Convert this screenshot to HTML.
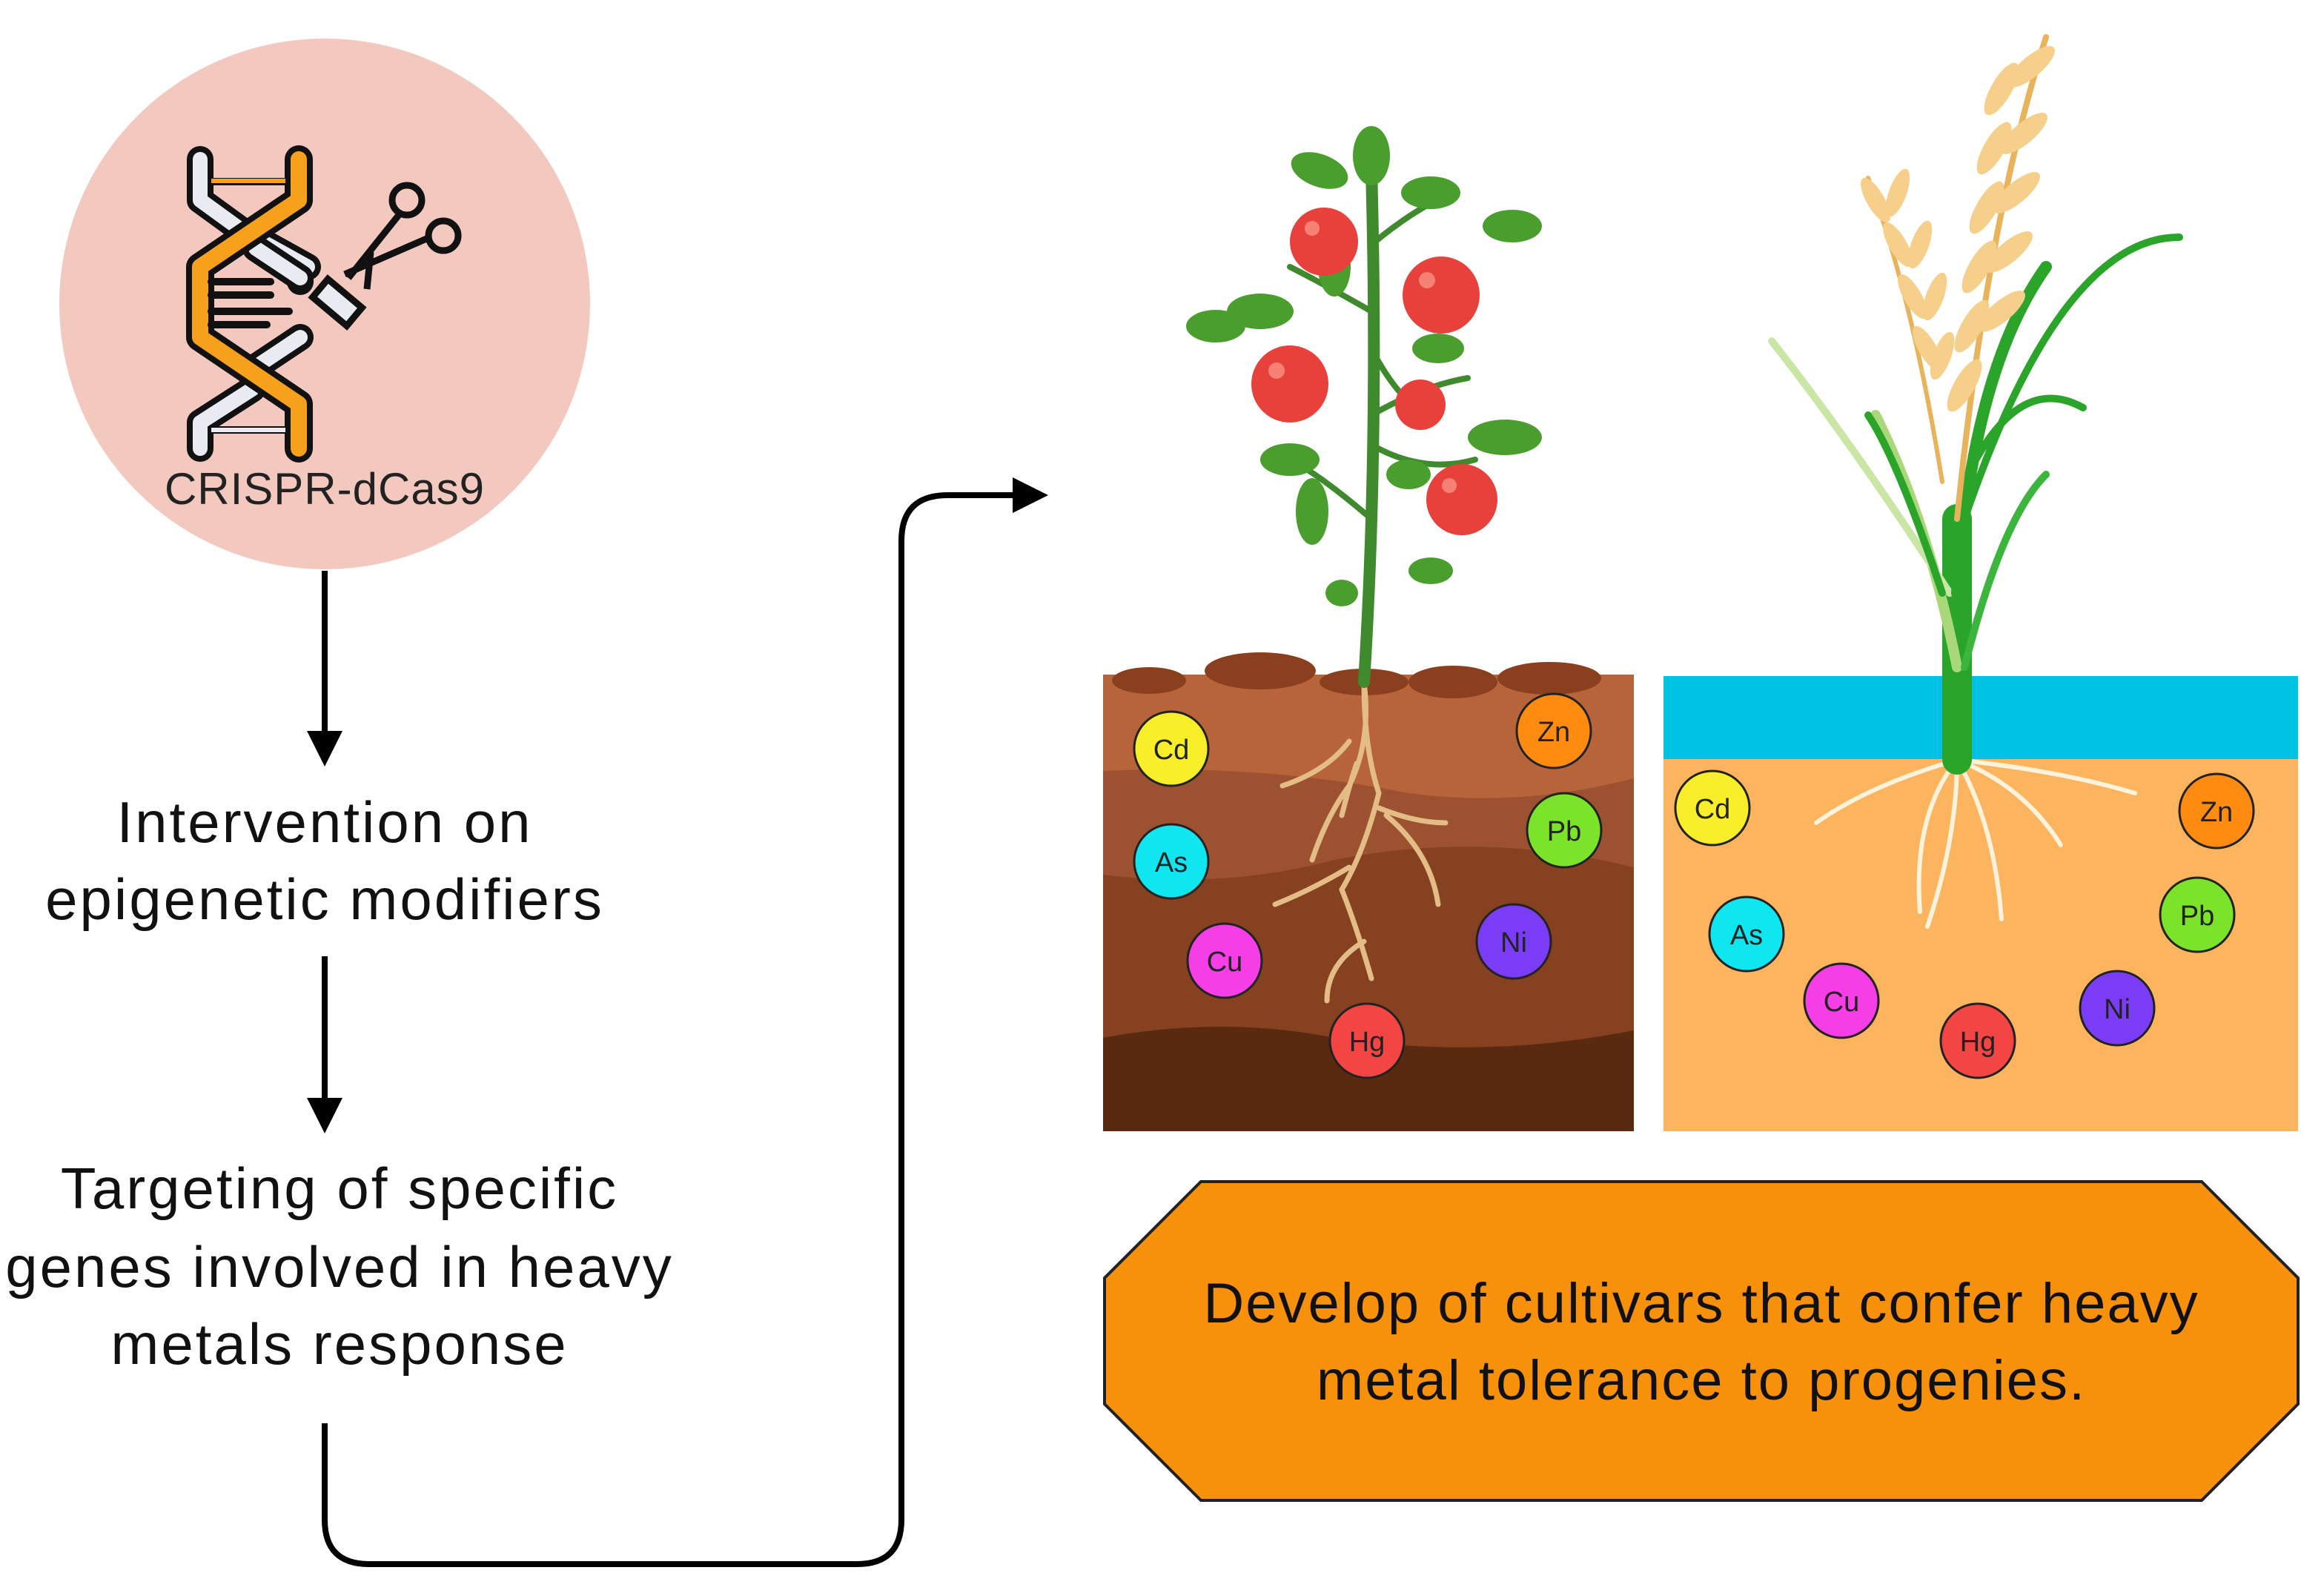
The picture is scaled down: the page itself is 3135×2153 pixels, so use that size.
<!DOCTYPE html>
<html><head><meta charset="utf-8"><style>
html,body{margin:0;padding:0;background:#fff;}
svg{display:block;}
text{font-family:"Liberation Sans",sans-serif;}
</style></head><body>
<svg width="3135" height="2153" viewBox="0 0 3135 2153" xmlns="http://www.w3.org/2000/svg">
<defs>
<marker id="ah" markerWidth="6" markerHeight="6" refX="3" refY="3" orient="auto" markerUnits="strokeWidth">
<path d="M0,0 L6,3 L0,6 Z" fill="#000"/></marker>
</defs>
<!-- CRISPR circle -->
<circle cx="438" cy="410" r="358" fill="#f2c8bf"/>
<g stroke="#111" stroke-width="14" stroke-linejoin="round" stroke-linecap="round">
<path d="M270,215 L270,270 L325,310 L415,360" fill="none" stroke="#111" stroke-width="36"/>
<path d="M270,215 L270,270 L325,310 L415,360" fill="none" stroke="#e8ecf2" stroke-width="20"/>
<path d="M345,335 L405,375 L405,380" fill="none" stroke="#111" stroke-width="36"/>
<path d="M345,335 L405,375" fill="none" stroke="#e8ecf2" stroke-width="20"/>
<path d="M405,455 L345,495 M340,525 L270,570 L270,605" fill="none" stroke="#111" stroke-width="36"/>
<path d="M405,455 L345,495 M340,525 L270,570 L270,605" fill="none" stroke="#e8ecf2" stroke-width="20"/>
<path d="M403,215 L403,270 L270,360 L270,455 L403,545 L403,605" fill="none" stroke="#111" stroke-width="38"/>
<path d="M403,215 L403,270 L270,360 L270,455 L403,545 L403,605" fill="none" stroke="#f7a01c" stroke-width="22"/>
<path d="M285,245 L385,245 M285,380 L365,380 M285,398 L365,398 M285,420 L390,420 M285,438 L360,438 M285,580 L385,580" fill="none" stroke-width="10"/>
</g>
<path d="M285,244 L385,244" stroke="#f7a01c" stroke-width="6"/>
<path d="M285,580 L385,580" stroke="#e8ecf2" stroke-width="6"/>
<g stroke="#111" stroke-width="9" fill="none">
<circle cx="549" cy="270" r="20"/><circle cx="598" cy="318" r="20"/>
<path d="M538,290 L470,375 M580,320 L465,370 M500,340 L495,390"/>
<rect x="425" y="392" width="60" height="32" transform="rotate(40 455 408)" fill="#e8ecf2"/>
</g>
<text x="438" y="680" font-size="60" letter-spacing="1" text-anchor="middle" fill="#222">CRISPR-dCas9</text>
<!-- arrows -->
<g stroke="#000" stroke-width="8" fill="none">
<line x1="438" y1="770" x2="438" y2="1010" marker-end="url(#ah)"/>
<line x1="438" y1="1290" x2="438" y2="1505" marker-end="url(#ah)"/>
<path d="M438,1920 L438,2050 Q438,2110 498,2110 L1156,2110 Q1216,2110 1216,2050 L1216,730 Q1216,668 1278,668 L1390,668" marker-end="url(#ah)"/>
</g>
<g font-size="78" letter-spacing="3" fill="#111" text-anchor="middle">
<text x="438" y="1136">Intervention on</text>
<text x="438" y="1240">epigenetic modifiers</text>
<text x="458" y="1630">Targeting of specific</text>
<text x="458" y="1736">genes involved in heavy</text>
<text x="458" y="1840">metals response</text>
</g>
<!-- soil box -->
<rect x="1488" y="910" width="716" height="616" fill="#b7643a"/>
<path d="M1488,1040 Q1700,1030 1900,1070 Q2050,1090 2204,1050 L2204,1526 L1488,1526 Z" fill="#9c5230"/>
<path d="M1488,1180 Q1650,1200 1800,1160 Q2000,1120 2204,1170 L2204,1526 L1488,1526 Z" fill="#854120"/>
<path d="M1488,1400 Q1650,1370 1800,1400 Q2000,1430 2204,1390 L2204,1526 L1488,1526 Z" fill="#5a2a10"/>
<g fill="#8a3f1e">
<ellipse cx="1550" cy="918" rx="50" ry="18"/><ellipse cx="1700" cy="905" rx="75" ry="25"/><ellipse cx="1840" cy="920" rx="60" ry="18"/><ellipse cx="1960" cy="920" rx="60" ry="22"/><ellipse cx="2090" cy="915" rx="70" ry="22"/>
</g>
<g stroke="#e3bd85" stroke-width="7" fill="none" stroke-linecap="round">
<path d="M1840,920 Q1850,1000 1820,1060 Q1790,1100 1770,1160 M1840,920 Q1840,1010 1860,1070 Q1840,1150 1810,1200 Q1830,1250 1850,1320"/>
<path d="M1820,1000 Q1790,1040 1730,1060 M1830,1030 Q1820,1060 1810,1100 M1860,1090 Q1910,1110 1950,1110 M1870,1100 Q1930,1150 1940,1220 M1820,1170 Q1770,1200 1720,1220 M1840,1270 Q1790,1300 1790,1350"/>
</g>
<!-- rice box -->
<rect x="2244" y="912" width="856" height="614" fill="#fdb45e"/>
<rect x="2244" y="912" width="856" height="112" fill="#00c3e3"/>
<g stroke="#fff3dc" stroke-width="6" fill="none" stroke-linecap="round">
<path d="M2640,1025 Q2520,1060 2450,1110 M2640,1025 Q2580,1100 2590,1230 M2640,1025 Q2640,1130 2600,1250 M2640,1025 Q2690,1110 2700,1240 M2640,1025 Q2730,1060 2780,1140 M2640,1025 Q2780,1040 2880,1070"/>
</g>
<g fill="none" stroke-linecap="round">
<path d="M2640,1025 L2640,700" stroke="#2aa52a" stroke-width="40"/>
<path d="M2640,900 Q2600,700 2530,560" stroke="#a8d87a" stroke-width="14"/>
<path d="M2630,800 Q2500,600 2390,460" stroke="#c9e6a5" stroke-width="10"/>
<path d="M2640,800 Q2660,500 2760,360" stroke="#2aa52a" stroke-width="16"/>
<path d="M2650,700 Q2780,320 2940,320" stroke="#2aa52a" stroke-width="10"/>
<path d="M2650,650 Q2720,500 2810,550" stroke="#2aa52a" stroke-width="10"/>
<path d="M2620,800 Q2560,620 2520,560" stroke="#2aa52a" stroke-width="10"/>
<path d="M2650,900 Q2700,700 2760,640" stroke="#3bb53b" stroke-width="10"/>
<path d="M2640,700 Q2680,300 2760,50" stroke="#e8b35a" stroke-width="8"/>
<path d="M2620,650 Q2580,400 2520,240" stroke="#e8b35a" stroke-width="6"/>
</g>
<g fill="#f6d08a">
<ellipse cx="2700" cy="120" rx="14" ry="40" transform="rotate(30 2700 120)"/><ellipse cx="2740" cy="90" rx="14" ry="40" transform="rotate(50 2740 90)"/>
<ellipse cx="2690" cy="200" rx="14" ry="40" transform="rotate(30 2690 200)"/><ellipse cx="2730" cy="180" rx="14" ry="40" transform="rotate(50 2730 180)"/>
<ellipse cx="2680" cy="280" rx="14" ry="40" transform="rotate(30 2680 280)"/><ellipse cx="2720" cy="260" rx="14" ry="40" transform="rotate(50 2720 260)"/>
<ellipse cx="2670" cy="360" rx="14" ry="40" transform="rotate(30 2670 360)"/><ellipse cx="2710" cy="340" rx="14" ry="40" transform="rotate(50 2710 340)"/>
<ellipse cx="2660" cy="440" rx="14" ry="40" transform="rotate(30 2660 440)"/><ellipse cx="2700" cy="420" rx="14" ry="40" transform="rotate(50 2700 420)"/>
<ellipse cx="2650" cy="520" rx="14" ry="40" transform="rotate(30 2650 520)"/>
<ellipse cx="2530" cy="270" rx="12" ry="34" transform="rotate(-30 2530 270)"/><ellipse cx="2560" cy="330" rx="12" ry="34" transform="rotate(-30 2560 330)"/>
<ellipse cx="2580" cy="400" rx="12" ry="34" transform="rotate(-30 2580 400)"/><ellipse cx="2600" cy="470" rx="12" ry="34" transform="rotate(-30 2600 470)"/>
<ellipse cx="2560" cy="260" rx="12" ry="34" transform="rotate(20 2560 260)"/><ellipse cx="2590" cy="330" rx="12" ry="34" transform="rotate(20 2590 330)"/>
<ellipse cx="2610" cy="400" rx="12" ry="34" transform="rotate(20 2610 400)"/><ellipse cx="2620" cy="480" rx="12" ry="34" transform="rotate(20 2620 480)"/>
</g>
<!-- tomato plant -->
<g fill="none" stroke="#3f8a2c" stroke-linecap="round">
<path d="M1840,920 Q1860,600 1850,230" stroke-width="16"/>
<path d="M1850,700 Q1780,640 1740,620 M1850,560 Q1920,520 1980,510 M1850,420 Q1780,380 1740,360 M1850,330 Q1910,280 1960,260 M1855,480 Q1900,560 1940,560 M1850,600 Q1920,640 1990,620" stroke-width="8"/>
</g>
<g fill="#4a9e2e">
<ellipse cx="1780" cy="230" rx="40" ry="22" transform="rotate(20 1780 230)"/><ellipse cx="1850" cy="210" rx="25" ry="40"/><ellipse cx="1930" cy="260" rx="40" ry="22"/>
<ellipse cx="2040" cy="305" rx="40" ry="22"/><ellipse cx="1700" cy="420" rx="45" ry="24"/><ellipse cx="1640" cy="440" rx="40" ry="22"/>
<ellipse cx="2030" cy="590" rx="50" ry="24"/><ellipse cx="1740" cy="620" rx="40" ry="22"/><ellipse cx="1770" cy="690" rx="22" ry="45"/>
<ellipse cx="1800" cy="360" rx="22" ry="40"/><ellipse cx="1940" cy="470" rx="35" ry="20"/><ellipse cx="1930" cy="770" rx="30" ry="18"/>
<ellipse cx="1810" cy="800" rx="22" ry="18"/><ellipse cx="1900" cy="640" rx="30" ry="20"/>
</g>
<g fill="#e8403a">
<circle cx="1786" cy="326" r="46"/><circle cx="1944" cy="398" r="52"/><circle cx="1740" cy="518" r="52"/><circle cx="1916" cy="546" r="34"/><circle cx="1972" cy="674" r="48"/>
</g>
<g fill="#ff9d90" opacity="0.7"><circle cx="1770" cy="308" r="10"/><circle cx="1925" cy="378" r="11"/><circle cx="1722" cy="500" r="11"/><circle cx="1955" cy="655" r="10"/></g>
<!-- metal circles -->
<g stroke="#222" stroke-width="3">
<circle cx="1580" cy="1010" r="50" fill="#f8ef2a"/><circle cx="2096" cy="986" r="50" fill="#ff8c10"/><circle cx="2110" cy="1120" r="50" fill="#7be32a"/><circle cx="1580" cy="1162" r="50" fill="#10e6ef"/><circle cx="2042" cy="1270" r="50" fill="#7a3df5"/><circle cx="1652" cy="1296" r="50" fill="#f53ee6"/><circle cx="1844" cy="1404" r="50" fill="#f44545"/>
<circle cx="2310" cy="1090" r="50" fill="#f8ef2a"/><circle cx="2990" cy="1094" r="50" fill="#ff8c10"/><circle cx="2356" cy="1260" r="50" fill="#10e6ef"/><circle cx="2964" cy="1234" r="50" fill="#7be32a"/><circle cx="2484" cy="1350" r="50" fill="#f53ee6"/><circle cx="2856" cy="1360" r="50" fill="#7a3df5"/><circle cx="2668" cy="1404" r="50" fill="#f44545"/>
</g>
<g font-size="38" text-anchor="middle" fill="#222">
<text x="1580" y="1024">Cd</text><text x="2096" y="1000">Zn</text><text x="2110" y="1134">Pb</text><text x="1580" y="1176">As</text><text x="2042" y="1284">Ni</text><text x="1652" y="1310">Cu</text><text x="1844" y="1418">Hg</text>
<text x="2310" y="1104">Cd</text><text x="2990" y="1108">Zn</text><text x="2356" y="1274">As</text><text x="2964" y="1248">Pb</text><text x="2484" y="1364">Cu</text><text x="2856" y="1374">Ni</text><text x="2668" y="1418">Hg</text>
</g>
<!-- octagon -->
<polygon points="1620,1594 2970,1594 3100,1724 3100,1894 2970,2024 1620,2024 1490,1894 1490,1724" fill="#f7910c" stroke="#222" stroke-width="4"/>
<g font-size="76" letter-spacing="2" fill="#111" text-anchor="middle">
<text x="2295" y="1784">Develop of cultivars that confer heavy</text>
<text x="2295" y="1888">metal tolerance to progenies.</text>
</g>
</svg>
</body></html>
